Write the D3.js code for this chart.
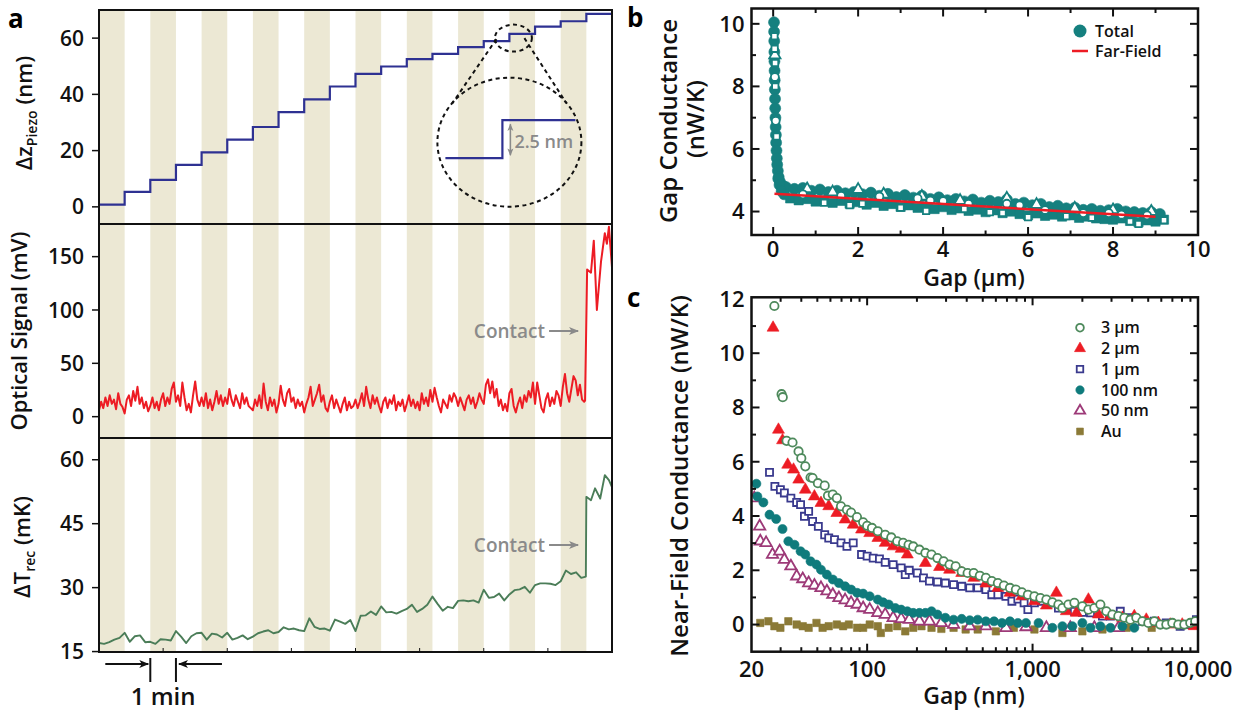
<!DOCTYPE html>
<html>
<head>
<meta charset="utf-8">
<title>Gap conductance measurement</title>
<script src="https://d3js.org/d3.v7.min.js"></script>
<style>
  body { margin: 0; background: #fff; }
  svg { display: block; font-family: "Open Sans", sans-serif; }
  .tick-label { font-size: 21px; font-weight: 600; fill: #111; }
  .axis-title { font-size: 22px; font-weight: 600; fill: #111; }
  .panel-letter { font-size: 26px; font-weight: 700; fill: #000; }
  .legend-text { font-size: 16px; font-weight: 600; fill: #111; }
  .note { font-size: 19px; font-weight: 600; fill: #8a8a8a; }
</style>
</head>
<body>
<svg id="chart" width="1247" height="713"></svg>
<script>
// ---------------- panel a data (time in minutes) ----------------
const stripeStarts = [0, 2, 4, 6, 8, 10, 12, 14, 16, 18];   // shaded minutes
const piezoLevels = [0.8, 5.3, 9.6, 14.9, 19.4, 23.9, 28.4, 33.7, 38.2, 42.8,
                     47.3, 49.9, 52.5, 54.4, 56.8, 58.9, 61.5, 64.1, 66.0, 68.6];
const piezoTicks = [0, 20, 40, 60];

const opticalStep = 1 / 12;
const opticalSignal = [
  6, 14, 8, 18, 10, 20, 12, 16, 7, 22, 12, 9,
  3, 16, 20, 10, 24, 15, 28, 12, 18, 8, 14, 5,
  10, 18, 8, 14, 6, 16, 22, 10, 18, 12, 26, 32,
  14, 20, 10, 32, 18, 6, 12, 4, 20, 33, 16, 10,
  18, 10, 22, 8, 16, 6, 14, 24, 12, 20, 10, 18,
  12, 26, 16, 10, 20, 14, 8, 22, 12, 18, 10, 8,
  6, 16, 10, 20, 8, 31, 14, 6, 18, 10, 16, 4,
  12, 29, 16, 10, 22, 26, 14, 18, 8, 16, 10, 14,
  4, 12, 18, 28, 10, 16, 22, 30, 14, 20, 8, 5,
  14, 20, 8, 16, 10, 4, 12, 18, 6, 14, 8, 10,
  16, 8, 14, 22, 10, 28, 16, 8, 20, 12, 18, 10,
  4, 14, 18, 8, 16, 12, 20, 6, 14, 10, 16, 5,
  12, 20, 10, 16, 8, 14, 6, 22, 12, 18, 10, 25,
  14, 27, 18, 10, 4, 16, 12, 8, 20, 14, 22, 18,
  10, 18, 12, 6, 16, 20, 12, 18, 8, 14, 22, 16,
  12, 30, 35, 22, 33, 18, 26, 10, 16, 6, 12, 5,
  22, 26, 10, 4, 12, 18, 8, 20, 14, 24, 18, 32,
  12, 32, 20, 8, 4, 16, 22, 10, 18, 12, 24, 20,
  10, 28, 40, 22, 14, 26, 38, 34, 20, 30, 16, 14
];
const opticalAfterContact = [[18.95, 15], [19.03, 138], [19.18, 135], [19.29, 165], [19.41, 100],
  [19.57, 145], [19.72, 172], [19.8, 162], [19.88, 178], [20, 140]];
const opticalTicks = [0, 50, 100, 150];

const tempStep = 0.2;
const tempSignal = [
  17.0, 16.8, 17.2, 17.8, 18.2, 19.4, 17.3, 18.6, 18.8, 17.2,
  17.3, 16.8, 17.9, 17.8, 17.6, 19.8, 18.5, 17.0, 18.6, 19.3,
  19.4, 17.8, 19.2, 19.0, 18.3, 19.4, 17.8, 18.2, 18.8, 17.9,
  18.5, 19.3, 19.7, 20.0, 19.3, 19.6, 20.7, 20.2, 20.4, 20.0,
  19.8, 22.8, 20.8, 20.3, 20.4, 19.9, 22.5, 22.0, 21.5, 22.4,
  19.8, 23.4, 23.5, 24.4, 23.6, 25.6, 24.2, 24.3, 23.9, 24.5,
  25.0, 26.0, 24.3, 25.0, 26.0, 27.9, 26.2, 24.6, 25.5, 25.2,
  26.9, 27.0, 26.8, 27.0, 26.5, 29.5, 27.6, 27.8, 28.6, 27.0,
  28.4, 29.4, 29.6, 30.2, 28.8, 30.6, 31.0, 31.0, 30.9, 30.6,
  31.5, 34.0, 33.2, 33.6, 32.3
];
const tempAfterContact = [[18.98, 32.6], [19.0, 51.3], [19.18, 50.5], [19.34, 53.3], [19.54, 50.9],
  [19.72, 56.4], [19.88, 55.2], [20, 53.6]];
const tempTicks = [15, 30, 45, 60];
const contactTime = 18.95;

// ---------------- panel b data (gap in um, conductance in nW/K) ----------------
const totalNearGap = [[0.02, 10.05], [0.022, 9.75], [0.025, 9.45], [0.028, 9.1], [0.03, 8.8], [0.033, 8.5],
  [0.036, 8.2], [0.04, 7.9], [0.044, 7.6], [0.048, 7.3], [0.053, 7.0], [0.058, 6.7], [0.064, 6.45], [0.07, 6.2],
  [0.078, 5.95], [0.086, 5.7], [0.095, 5.5], [0.11, 5.3], [0.13, 5.1], [0.16, 4.95], [0.2, 4.85], [0.25, 4.8],
  [0.12, 5.05], [0.15, 4.85], [0.2, 4.65], [0.26, 4.55]];
const totalFilledCircles = [[0.3, 4.78], [0.5, 4.72], [0.7, 4.75], [0.9, 4.66], [1.1, 4.7], [1.3, 4.62],
  [1.5, 4.66], [1.7, 4.58], [1.9, 4.62], [2.1, 4.55], [2.3, 4.6], [2.5, 4.5], [2.7, 4.56], [2.9, 4.46],
  [3.1, 4.52], [3.3, 4.44], [3.5, 4.5], [3.7, 4.4], [3.9, 4.45], [4.1, 4.36], [4.3, 4.4], [4.5, 4.32],
  [4.7, 4.38], [4.9, 4.28], [5.1, 4.34], [5.3, 4.3], [5.5, 4.38], [5.7, 4.24], [5.9, 4.28], [6.1, 4.2],
  [6.3, 4.24], [6.5, 4.14], [6.7, 4.18], [6.9, 4.1], [7.1, 4.12], [7.3, 4.05], [7.5, 4.08], [7.7, 4.02],
  [7.9, 4.04], [8.1, 4.08], [8.3, 4.0], [8.5, 3.98], [8.7, 3.95], [8.9, 3.98], [9.1, 3.92]];
const totalFilledSquares = [[0.4, 4.42], [0.6, 4.36], [0.8, 4.4], [1.0, 4.32], [1.2, 4.36], [1.4, 4.28],
  [1.6, 4.34], [1.8, 4.25], [2.0, 4.3], [2.2, 4.22], [2.4, 4.28], [2.6, 4.18], [2.8, 4.24], [3.0, 4.15],
  [3.2, 4.2], [3.4, 4.12], [3.6, 4.16], [3.8, 4.08], [4.0, 4.14], [4.2, 4.05], [4.4, 4.1], [4.6, 4.02],
  [4.8, 4.06], [5.0, 3.98], [5.2, 4.04], [5.4, 3.95], [5.6, 4.0], [5.8, 3.92], [6.0, 3.88], [6.2, 3.94],
  [6.4, 3.86], [6.6, 3.9], [6.8, 3.84], [7.0, 3.88], [7.2, 3.8], [7.4, 3.84], [7.6, 3.78], [7.8, 3.76],
  [8.0, 3.74], [8.2, 3.78], [8.4, 3.7], [8.6, 3.66], [8.8, 3.72], [9.0, 3.68], [9.2, 3.74]];
const totalOpenCircles = [[0.04, 8.3], [0.06, 6.9], [0.7, 4.55], [1.6, 4.5], [2.5, 4.48], [3.4, 4.42],
  [3.7, 4.35], [4.0, 4.33], [4.6, 4.25], [5.5, 4.25], [5.8, 4.2], [6.4, 4.05], [7.3, 3.95], [7.9, 3.95],
  [8.2, 3.9], [8.8, 3.88]];
const totalOpenSquares = [[0.03, 9.6], [0.035, 9.2], [0.045, 8.75], [0.05, 8.0], [0.08, 6.4], [1.2, 4.28],
  [1.8, 4.2], [2.1, 4.25], [3.0, 4.12], [3.6, 4.02], [4.5, 4.08], [5.1, 3.98], [5.4, 3.95], [6.0, 3.82],
  [6.9, 3.85], [7.5, 3.8], [8.4, 3.68], [8.6, 3.6], [9.2, 3.72]];
const totalOpenTriangles = [[0.04, 9.0], [0.8, 4.72], [1.4, 4.62], [2.0, 4.7], [2.6, 4.55], [3.5, 4.48],
  [4.4, 4.35], [5.5, 4.42], [6.2, 4.22], [7.1, 4.1], [8.0, 4.05], [8.9, 4.0]];
const farField = [[0.03, 4.57], [9.0, 3.83]];

// ---------------- panel c data (gap in nm, near-field conductance in nW/K) ----------------
const nf3um = [[27.5, 11.74], [30.4, 8.49], [30.9, 8.38], [32.6, 6.77], [35.4, 6.71], [38.5, 6.38], [40, 6.13],
  [42.3, 5.83], [45.5, 5.42], [46.8, 5.4], [50.4, 5.21], [55.4, 5.12], [58, 4.75], [62, 4.79], [65.6, 4.66],
  [69.5, 4.36], [75.5, 4.23], [80, 4.13], [86.8, 3.96], [94.6, 3.77], [100, 3.64], [107, 3.56], [116, 3.44],
  [128.6, 3.31], [140, 3.21], [152, 3.07], [165, 3.01], [178, 2.94], [190, 2.88], [207, 2.76], [225, 2.64],
  [245, 2.58], [266, 2.45], [290, 2.33], [315, 2.21], [343, 2.15], [373, 1.96], [405, 1.9], [441, 1.9],
  [480, 1.8], [522, 1.72], [567, 1.6], [617, 1.53], [671, 1.44], [730, 1.35], [793, 1.29], [862, 1.19],
  [937, 1.1], [1026, 1.04], [1115, 0.98], [1212, 0.92], [1318, 0.82], [1433, 0.74], [1515, 0.61],
  [1647, 0.74], [1790, 0.8], [2000, 0.67], [2175, 0.55], [2363, 0.61], [2570, 0.74], [2793, 0.49],
  [3036, 0.37], [3300, 0.31], [3588, 0.25], [3900, 0.18], [4239, 0.25], [4608, 0.12], [5010, 0.06],
  [5445, 0.12], [5920, 0], [6434, 0], [6995, 0.06], [7600, 0], [8263, 0], [8982, 0.06], [9620, 0.12]];
const nf2um = [[27, 10.94], [29.1, 7.18], [30.8, 6.79], [33.1, 5.89], [35.9, 5.71], [38.6, 5.34], [42.3, 4.97],
  [48, 4.72], [52.6, 4.48], [58.6, 4.36], [65.6, 4.11], [73.6, 3.87], [82.4, 3.68], [92.5, 3.5], [103.7, 3.37],
  [116.1, 3.19], [128.6, 3.01], [143.6, 2.88], [160.6, 2.79], [175, 2.58], [225, 2.27], [274, 2.12],
  [315, 2.02], [373, 1.9], [441, 1.72], [522, 1.51], [617, 1.35], [730, 1.17], [862, 1.04], [1026, 0.86],
  [1212, 0.7], [1393, 1.17], [1600, 0.49], [1841, 0.43], [2175, 0.92], [2500, 0.37], [2955, 0.31],
  [3490, 0.25], [4120, 0.31], [4870, 0.18], [5760, 0.06], [6800, 0], [8030, 0], [9480, -0.06]];
const nf1um = [[25.7, 5.61], [27.7, 5.09], [29.9, 4.97], [31.6, 4.85], [34.6, 4.66], [37.5, 4.5], [39.6, 4.42],
  [41.8, 3.99], [44.3, 4.17], [46.8, 3.8], [50.7, 3.62], [55.4, 3.31], [58.6, 3.19], [63.5, 3.13], [69.5, 3.01],
  [75.5, 2.88], [82.4, 3.01], [92.5, 2.58], [100, 2.52], [108.8, 2.45], [118.7, 2.42], [128.6, 2.29],
  [143.6, 2.21], [160.6, 2.09], [170, 1.84], [179.7, 2.0], [201, 1.9], [219, 1.72], [238, 1.6], [266, 1.57],
  [297, 1.53], [333, 1.47], [373, 1.41], [417, 1.35], [466, 1.35], [522, 1.29], [567, 1.1], [617, 1.1],
  [690, 1.04], [750, 0.86], [815, 0.94], [889, 0.8], [937, 0.55], [1026, 0.8], [1150, 0.86], [1285, 0.8],
  [1433, 0.61], [1600, 0.55], [1790, 0.49], [2000, 0.45], [2240, 0.43], [2645, 0.31], [2955, 0.31],
  [3390, 0.49], [3900, 0.25], [4608, 0.12], [5445, 0.12], [6434, 0.06], [7800, -0.06], [8982, 0], [9780, 0.18]];
const nf100nm = [[21.4, 5.19], [21.7, 4.72], [23.6, 4.5], [25.7, 4.05], [28.2, 3.89], [30.8, 3.52], [33.4, 3.07],
  [36.4, 2.94], [39.6, 2.7], [42.3, 2.58], [45.5, 2.33], [49.4, 2.21], [52.6, 2.02], [57.1, 1.84], [62, 1.66],
  [67.5, 1.53], [73.6, 1.41], [80, 1.29], [87, 1.17], [94.6, 1.14], [103.7, 1.04], [116, 0.92], [125, 0.82],
  [135, 0.74], [148, 0.61], [160.6, 0.55], [175, 0.49], [190, 0.43], [207, 0.43], [225, 0.43], [245, 0.49],
  [266, 0.37], [297, 0.25], [333, 0.18], [373, 0.21], [417, 0.16], [466, 0.18], [522, 0.12], [585, 0.12],
  [653, 0.06], [730, 0.12], [815, 0.06], [912, 0.06], [1087, 0.06], [1318, -0.12], [1515, -0.06],
  [1740, -0.06], [2000, 0.06], [2240, -0.12], [2570, -0.06], [2955, -0.12], [3490, -0.06], [4120, -0.12]];
const nf50nm = [[20.8, 4.66], [22.4, 3.62], [22.6, 3.07], [24.5, 3.01], [26.8, 2.58], [29.6, 2.7], [31.6, 2.39],
  [34.6, 2.15], [37.5, 1.78], [40.8, 1.68], [44.3, 1.53], [48, 1.44], [52.6, 1.35], [57.1, 1.23], [62, 1.1],
  [67.5, 0.98], [73.6, 0.9], [80, 0.8], [87, 0.74], [94.6, 0.61], [103.7, 0.55], [116, 0.43], [128.6, 0.37],
  [143.6, 0.25], [160.6, 0.21], [179.7, 0.18], [207, 0.12], [238, 0.12], [281, 0.06], [333, 0], [417, -0.06],
  [522, -0.06], [690, -0.12], [912, -0.09], [1212, -0.12], [1690, -0.12], [2363, -0.12], [3300, -0.12]];
const nfAu = [[22.6, 0.06], [25.3, 0.12], [27.5, -0.06], [29.9, -0.12], [33.4, 0.12], [37.5, 0], [40.8, -0.06],
  [44.3, -0.12], [49.4, 0.06], [53.8, -0.12], [58.6, -0.06], [65.6, 0], [71.6, -0.06], [77.6, 0], [87, -0.12],
  [94.6, -0.12], [103.7, 0], [116, -0.06], [121, -0.31], [135, -0.12], [152, -0.06], [170, -0.25],
  [190, -0.12], [213, -0.06], [245, -0.12], [281, -0.16], [333, -0.12], [394, -0.18], [466, -0.18],
  [600, -0.25], [770, -0.12], [1026, -0.18], [1515, -0.31], [2000, -0.25], [2645, -0.18], [3700, -0.12],
  [5250, -0.12]];
const nfNames = ["3 \u03bcm", "2 \u03bcm", "1 \u03bcm", "100 nm", "50 nm", "Au"];

// ---------------- drawing ----------------
const svg = d3.select("#chart");
const defs = svg.append("defs");

function arrowMarker(id, color) {
  defs.append("marker").attr("id", id)
    .attr("viewBox", "0 0 10 10").attr("refX", 9).attr("refY", 5)
    .attr("markerWidth", 5).attr("markerHeight", 5).attr("orient", "auto-start-reverse")
    .attr("markerUnits", "strokeWidth")
    .append("path").attr("d", "M0,1 L10,5 L0,9 L2.5,5 Z").attr("fill", color);
}
arrowMarker("arrGray", "#8a8a8a");
arrowMarker("arrBlack", "#111");

// ===== panel a =====
const aLeft = 99, aRight = 612;
const tx = d3.scaleLinear().domain([0, 20]).range([aLeft, aRight]);
const rowsA = [
  { top: 10, bottom: 224, domain: [-6.1, 70], ticks: piezoTicks },
  { top: 224, bottom: 438, domain: [-20, 180.6], ticks: opticalTicks },
  { top: 438, bottom: 652, domain: [14.9, 65.1], ticks: tempTicks }
].map(r => Object.assign(r, { y: d3.scaleLinear().domain(r.domain).range([r.bottom, r.top]) }));

const gA = svg.append("g");
rowsA.forEach((r, i) => {
  defs.append("clipPath").attr("id", "clipA" + i)
    .append("rect").attr("x", aLeft).attr("y", r.top).attr("width", aRight - aLeft).attr("height", r.bottom - r.top);
  gA.append("g").selectAll("rect").data(stripeStarts).join("rect")
    .attr("x", d => tx(d)).attr("width", d => tx(d + 1) - tx(d))
    .attr("y", r.top).attr("height", r.bottom - r.top)
    .attr("fill", "#ece8d4");
  // y ticks (outward) and labels
  r.ticks.forEach(v => {
    gA.append("line").attr("x1", aLeft - 7).attr("x2", aLeft).attr("y1", r.y(v)).attr("y2", r.y(v))
      .attr("stroke", "#111").attr("stroke-width", 1.5);
    gA.append("text").attr("class", "tick-label").attr("x", 84).attr("y", r.y(v))
      .attr("dy", "0.36em").attr("text-anchor", "end").text(v);
  });
});

// bottom minor ticks every 2.5 min
d3.range(2.5, 20, 2.5).forEach(t => {
  gA.append("line").attr("x1", tx(t)).attr("x2", tx(t)).attr("y1", 652).attr("y2", 648)
    .attr("stroke", "#111").attr("stroke-width", 1);
});

// piezo steps
const piezoPts = piezoLevels.map((v, i) => [i, v]).concat([[20, piezoLevels[piezoLevels.length - 1]]]);
gA.append("path").attr("clip-path", "url(#clipA0)")
  .attr("d", d3.line().x(d => tx(d[0])).y(d => rowsA[0].y(d[1])).curve(d3.curveStepAfter)(piezoPts))
  .attr("fill", "none").attr("stroke", "#2e3192").attr("stroke-width", 2.2);

// optical
const opticalPts = opticalSignal.map((v, i) => [i * opticalStep, v]).concat(opticalAfterContact);
gA.append("path").attr("clip-path", "url(#clipA1)")
  .attr("d", d3.line().x(d => tx(d[0])).y(d => rowsA[1].y(d[1]))(opticalPts))
  .attr("fill", "none").attr("stroke", "#ed1c24").attr("stroke-width", 2).attr("stroke-linejoin", "round");

// temperature
const tempPts = tempSignal.map((v, i) => [i * tempStep, v]).concat(tempAfterContact);
gA.append("path").attr("clip-path", "url(#clipA2)")
  .attr("d", d3.line().x(d => tx(d[0])).y(d => rowsA[2].y(d[1]))(tempPts))
  .attr("fill", "none").attr("stroke", "#4b7d58").attr("stroke-width", 1.9).attr("stroke-linejoin", "round");

// frame + dividers
gA.append("rect").attr("x", aLeft).attr("y", 10).attr("width", aRight - aLeft).attr("height", 642)
  .attr("fill", "none").attr("stroke", "#111").attr("stroke-width", 2);
[224, 438].forEach(y => gA.append("line").attr("x1", aLeft).attr("x2", aRight).attr("y1", y).attr("y2", y)
  .attr("stroke", "#111").attr("stroke-width", 2));

// contact notes
[[rowsA[1], 331], [rowsA[2], 545]].forEach(([r, y]) => {
  const xe = tx(contactTime);
  gA.append("text").attr("class", "note").attr("x", xe - 40).attr("y", y).attr("dy", "0.35em")
    .attr("text-anchor", "end").text("Contact");
  gA.append("line").attr("x1", xe - 36).attr("x2", xe - 7).attr("y1", y).attr("y2", y)
    .attr("stroke", "#8a8a8a").attr("stroke-width", 2).attr("marker-end", "url(#arrGray)");
});

// zoom inset on the piezo steps
const ix = tx(16), iyS = rowsA[0].y(60), iyB = rowsA[0].y(23);
const dash = "4,3.5";
gA.append("ellipse").attr("cx", ix + 4).attr("cy", iyS).attr("rx", 18.5).attr("ry", 13.5)
  .attr("fill", "none").attr("stroke", "#111").attr("stroke-width", 2).attr("stroke-dasharray", dash);
gA.append("ellipse").attr("cx", ix).attr("cy", iyB).attr("rx", 72).attr("ry", 64.5)
  .attr("fill", "none").attr("stroke", "#111").attr("stroke-width", 2).attr("stroke-dasharray", dash);
gA.append("line").attr("x1", ix - 13).attr("y1", iyS + 1).attr("x2", ix - 57).attr("y2", iyB - 39)
  .attr("stroke", "#111").attr("stroke-width", 2).attr("stroke-dasharray", dash);
gA.append("line").attr("x1", ix + 15).attr("y1", iyS).attr("x2", ix + 57).attr("y2", iyB - 39)
  .attr("stroke", "#111").attr("stroke-width", 2).attr("stroke-dasharray", dash);
gA.append("path")
  .attr("d", `M${ix - 64},${iyB + 16} H${ix - 7} V${iyB - 22} H${ix + 66}`)
  .attr("fill", "none").attr("stroke", "#2e3192").attr("stroke-width", 2.2);
gA.append("line").attr("x1", ix + 1).attr("x2", ix + 1).attr("y1", iyB - 18).attr("y2", iyB + 13)
  .attr("stroke", "#8a8a8a").attr("stroke-width", 1.5)
  .attr("marker-start", "url(#arrGray)").attr("marker-end", "url(#arrGray)");
gA.append("text").attr("class", "note").style("font-size", "18px")
  .attr("x", ix + 5).attr("y", iyB).attr("dy", "0.35em").text("2.5 nm");

// 1 min scale
const yMin = 664;
gA.append("line").attr("x1", tx(2) - 45).attr("x2", tx(2) - 2).attr("y1", yMin).attr("y2", yMin)
  .attr("stroke", "#111").attr("stroke-width", 2).attr("marker-end", "url(#arrBlack)");
gA.append("line").attr("x1", tx(3) + 46).attr("x2", tx(3) + 3).attr("y1", yMin).attr("y2", yMin)
  .attr("stroke", "#111").attr("stroke-width", 2).attr("marker-end", "url(#arrBlack)");
[2, 3].forEach(t => gA.append("line").attr("x1", tx(t)).attr("x2", tx(t)).attr("y1", 658).attr("y2", 682)
  .attr("stroke", "#111").attr("stroke-width", 2));
gA.append("text").attr("class", "axis-title").style("font-size", "24px")
  .attr("x", (tx(2) + tx(3)) / 2).attr("y", 705).attr("text-anchor", "middle").text("1 min");

// y titles panel a
const tTop = gA.append("text").attr("class", "axis-title").attr("text-anchor", "middle")
  .attr("transform", "translate(32,113) rotate(-90)");
tTop.append("tspan").text("\u0394z");
tTop.append("tspan").style("font-size", "14px").attr("dy", 5).text("Piezo");
tTop.append("tspan").attr("dy", -5).text(" (nm)");
gA.append("text").attr("class", "axis-title").attr("text-anchor", "middle")
  .attr("transform", "translate(27,331) rotate(-90)").text("Optical Signal (mV)");
const tBot = gA.append("text").attr("class", "axis-title").attr("text-anchor", "middle")
  .attr("transform", "translate(30,547) rotate(-90)");
tBot.append("tspan").text("\u0394T");
tBot.append("tspan").style("font-size", "14px").attr("dy", 5).text("rec");
tBot.append("tspan").attr("dy", -5).text(" (mK)");

svg.append("text").attr("class", "panel-letter").attr("x", 8).attr("y", 28).text("a");
svg.append("text").attr("class", "panel-letter").attr("x", 627).attr("y", 27).text("b");
svg.append("text").attr("class", "panel-letter").attr("x", 627).attr("y", 307).text("c");

// ===== shared helpers for b, c =====
function drawTicks(g, box, xs, ys, xMaj, xMin, yMaj, yMin) {
  const L = 8, S = 4.5;
  const tick = (x1, y1, x2, y2) => g.append("line").attr("x1", x1).attr("y1", y1).attr("x2", x2).attr("y2", y2)
    .attr("stroke", "#111").attr("stroke-width", 2);
  [[xMaj, L], [xMin, S]].forEach(([vals, len]) => vals.forEach(v => {
    const x = xs(v);
    tick(x, box.bottom, x, box.bottom - len);
    tick(x, box.top, x, box.top + len);
  }));
  [[yMaj, L], [yMin, S]].forEach(([vals, len]) => vals.forEach(v => {
    const y = ys(v);
    tick(box.left, y, box.left + len, y);
    tick(box.right, y, box.right - len, y);
  }));
}
function drawSeries(g, data, xs, ys, spec) {
  g.append("g").selectAll("path").data(data).join("path")
    .attr("transform", d => `translate(${xs(d[0])},${ys(d[1])})`)
    .attr("d", d3.symbol().type(spec.type).size(spec.size))
    .attr("fill", spec.open ? "#fff" : spec.color)
    .attr("stroke", spec.color)
    .attr("stroke-width", spec.open ? 1.8 : 0.6);
}

// ===== panel b =====
const boxB = { left: 751.5, right: 1198, top: 8.5, bottom: 235 };
const bx = d3.scaleLinear().domain([-0.51, 10]).range([boxB.left, boxB.right]);
const by = d3.scaleLinear().domain([3.25, 10.49]).range([boxB.bottom, boxB.top]);
const teal = "#15807f";
defs.append("clipPath").attr("id", "clipB").append("rect")
  .attr("x", boxB.left).attr("y", boxB.top).attr("width", boxB.right - boxB.left).attr("height", boxB.bottom - boxB.top);
const gB = svg.append("g");
const gBd = gB.append("g").attr("clip-path", "url(#clipB)");
drawSeries(gBd, totalFilledSquares, bx, by, { type: d3.symbolSquare, size: 85, color: teal });
drawSeries(gBd, totalFilledCircles, bx, by, { type: d3.symbolCircle, size: 100, color: teal });
drawSeries(gBd, totalNearGap, bx, by, { type: d3.symbolCircle, size: 95, color: teal });
drawSeries(gBd, totalOpenTriangles, bx, by, { type: d3.symbolTriangle, size: 55, color: teal, open: true });
drawSeries(gBd, totalOpenCircles, bx, by, { type: d3.symbolCircle, size: 50, color: teal, open: true });
drawSeries(gBd, totalOpenSquares, bx, by, { type: d3.symbolSquare, size: 40, color: teal, open: true });
gBd.append("path").attr("d", d3.line().x(d => bx(d[0])).y(d => by(d[1]))(farField))
  .attr("stroke", "#ed1c24").attr("stroke-width", 2.5).attr("fill", "none");
gB.append("rect").attr("x", boxB.left).attr("y", boxB.top).attr("width", boxB.right - boxB.left)
  .attr("height", boxB.bottom - boxB.top).attr("fill", "none").attr("stroke", "#111").attr("stroke-width", 2.5);
drawTicks(gB, boxB, bx, by, [0, 2, 4, 6, 8], [1, 3, 5, 7, 9], [4, 6, 8, 10], [5, 7, 9]);
[0, 2, 4, 6, 8, 10].forEach(v => gB.append("text").attr("class", "tick-label").style("font-size", "22px")
  .attr("x", bx(v)).attr("y", boxB.bottom + 6).attr("dy", "0.72em").attr("text-anchor", "middle").text(v));
[4, 6, 8, 10].forEach(v => gB.append("text").attr("class", "tick-label").style("font-size", "22px")
  .attr("x", boxB.left - 7).attr("y", by(v)).attr("dy", "0.36em").attr("text-anchor", "end").text(v));
gB.append("text").attr("class", "axis-title").style("font-size", "24px").attr("text-anchor", "middle")
  .attr("transform", "translate(677,121) rotate(-90)").text("Gap Conductance");
gB.append("text").attr("class", "axis-title").style("font-size", "24px").attr("text-anchor", "middle")
  .attr("transform", "translate(704,119) rotate(-90)").text("(nW/K)");
gB.append("text").attr("class", "axis-title").style("font-size", "23px").attr("text-anchor", "middle")
  .attr("x", 974).attr("y", 286).text("Gap (\u03bcm)");
// legend b
gB.append("circle").attr("cx", 1080).attr("cy", 31).attr("r", 6.5).attr("fill", teal);
gB.append("text").attr("class", "legend-text").attr("x", 1095).attr("y", 31).attr("dy", "0.36em").text("Total");
gB.append("line").attr("x1", 1072).attr("x2", 1088).attr("y1", 51).attr("y2", 51)
  .attr("stroke", "#ed1c24").attr("stroke-width", 2.5);
gB.append("text").attr("class", "legend-text").attr("x", 1095).attr("y", 51).attr("dy", "0.36em").text("Far-Field");

// ===== panel c =====
const boxC = { left: 751.5, right: 1198, top: 297.3, bottom: 651.7 };
const cx = d3.scaleLog().domain([20, 10000]).range([boxC.left, boxC.right]);
const cy = d3.scaleLinear().domain([-1, 12.06]).range([boxC.bottom, boxC.top]);
defs.append("clipPath").attr("id", "clipC").append("rect")
  .attr("x", boxC.left).attr("y", boxC.top).attr("width", boxC.right - boxC.left).attr("height", boxC.bottom - boxC.top);
const gC = svg.append("g");
const gCd = gC.append("g").attr("clip-path", "url(#clipC)");
const nfSpecs = [
  { data: nf3um, type: d3.symbolCircle, size: 55, color: "#4e8a5c", open: true },
  { data: nf2um, type: d3.symbolTriangle, size: 62, color: "#ed1c24" },
  { data: nf1um, type: d3.symbolSquare, size: 50, color: "#3a3a8e", open: true },
  { data: nf100nm, type: d3.symbolCircle, size: 65, color: "#0f7b7c" },
  { data: nf50nm, type: d3.symbolTriangle, size: 55, color: "#9d3a78", open: true },
  { data: nfAu, type: d3.symbolSquare, size: 55, color: "#8b7a37" }
];
[5, 4, 3, 2, 1, 0].forEach(i => drawSeries(gCd, nfSpecs[i].data, cx, cy, nfSpecs[i]));
gC.append("rect").attr("x", boxC.left).attr("y", boxC.top).attr("width", boxC.right - boxC.left)
  .attr("height", boxC.bottom - boxC.top).attr("fill", "none").attr("stroke", "#111").attr("stroke-width", 2.5);
const logMinor = cx.ticks().filter(v => [100, 1000, 10000, 20].indexOf(v) < 0);
drawTicks(gC, boxC, cx, cy, [100, 1000], logMinor, [0, 2, 4, 6, 8, 10], [1, 3, 5, 7, 9, 11]);
[20, 100, 1000, 10000].forEach(v => gC.append("text").attr("class", "tick-label").style("font-size", "22px")
  .attr("x", cx(v)).attr("y", boxC.bottom + 9).attr("dy", "0.72em").attr("text-anchor", "middle")
  .text(d3.format(",")(v)));
[0, 2, 4, 6, 8, 10, 12].forEach(v => gC.append("text").attr("class", "tick-label").style("font-size", "22px")
  .attr("x", boxC.left - 7).attr("y", cy(v)).attr("dy", "0.36em").attr("text-anchor", "end").text(v));
gC.append("text").attr("class", "axis-title").style("font-size", "24px").attr("text-anchor", "middle")
  .attr("transform", "translate(688,476) rotate(-90)").text("Near-Field Conductance (nW/K)");
gC.append("text").attr("class", "axis-title").style("font-size", "23px").attr("text-anchor", "middle")
  .attr("x", 974).attr("y", 704).text("Gap (nm)");
// legend c
nfSpecs.forEach((s, i) => {
  const y = 327.7 + i * 20.75;
  gC.append("path").attr("transform", `translate(1080,${y})`)
    .attr("d", d3.symbol().type(s.type).size(s.size * 0.85))
    .attr("fill", s.open ? "#fff" : s.color).attr("stroke", s.color).attr("stroke-width", s.open ? 1.8 : 0.6);
  gC.append("text").attr("class", "legend-text").attr("x", 1101).attr("y", y).attr("dy", "0.36em").text(nfNames[i]);
});
</script>
</body>
</html>
